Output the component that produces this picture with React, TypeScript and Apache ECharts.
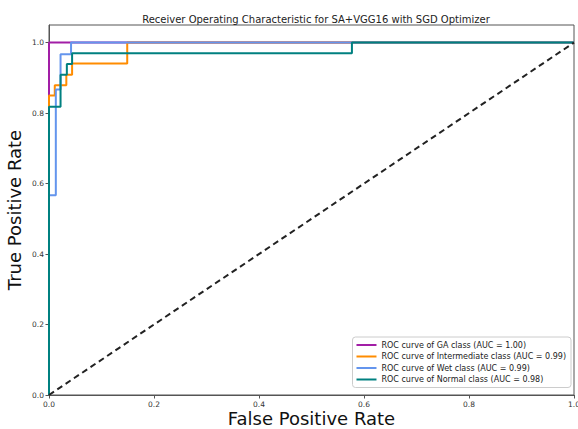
import React, { useEffect, useRef } from "react";
import * as echarts from "echarts";

// ROC curve points (false positive rate / true positive rate) per class
const gaFpr = [0, 0, 1];
const gaTpr = [0, 1, 1];

const intermediateFpr = [0, 0, 0.011, 0.011, 0.033, 0.033, 0.044, 0.044, 0.149, 0.149, 1];
const intermediateTpr = [0, 0.85, 0.85, 0.879, 0.879, 0.909, 0.909, 0.941, 0.941, 1, 1];

const wetFpr = [0, 0, 0.013, 0.013, 0.022, 0.022, 0.042, 0.042, 1];
const wetTpr = [0, 0.567, 0.567, 0.867, 0.867, 0.967, 0.967, 1, 1];

const normalFpr = [0, 0, 0.022, 0.022, 0.034, 0.034, 0.044, 0.044, 0.577, 0.577, 1];
const normalTpr = [0, 0.818, 0.818, 0.909, 0.909, 0.939, 0.939, 0.97, 0.97, 1, 1];

const chanceLine = [0, 1];

const seriesNames = [
  "ROC curve of GA class (AUC = 1.00)",
  "ROC curve of Intermediate class (AUC = 0.99)",
  "ROC curve of Wet class (AUC = 0.99)",
  "ROC curve of Normal class (AUC = 0.98)",
];
const seriesColors = ["#a21ea6", "#ff8c00", "#6495ed", "#008080"];

const tickValues = [0, 0.2, 0.4, 0.6, 0.8, 1.0];

const zip = (xs: number[], ys: number[]) => xs.map((x, i) => [x, ys[i]]);

const FONT = "DejaVu Sans";

export default function App() {
  const ref = useRef<HTMLDivElement>(null);

  useEffect(() => {
    if (!ref.current) return;
    const chart = echarts.init(ref.current, null, { renderer: "svg" });

    const curves = [
      zip(gaFpr, gaTpr),
      zip(intermediateFpr, intermediateTpr),
      zip(wetFpr, wetTpr),
      zip(normalFpr, normalTpr),
    ];

    const axisCommon = {
      axisLine: { show: true, onZero: false, lineStyle: { color: "#555", width: 1 } },
      axisTick: {
        show: true,
        length: 3.5,
        customValues: tickValues,
        lineStyle: { color: "#555" },
      },
      axisLabel: {
        customValues: tickValues,
        formatter: (v: number) => v.toFixed(1),
        fontFamily: FONT,
        fontSize: 7.5,
        lineHeight: 8,
        color: "#333",
        margin: 5,
      },
      splitLine: { show: false },
      nameMoveOverlap: false,
      nameTextStyle: { fontFamily: FONT, fontSize: 18, lineHeight: 18, color: "#111" },
    };

    chart.setOption({
      animation: false,
      backgroundColor: "#ffffff",
      title: {
        text: "Receiver Operating Characteristic for SA+VGG16 with SGD Optimizer",
        left: 311,
        top: 9,
        textAlign: "center",
        textStyle: { fontFamily: FONT, fontSize: 10, fontWeight: "normal", color: "#222" },
      },
      grid: {
        left: 49,
        right: 4,
        top: 25,
        bottom: 34,
        outerBoundsMode: "none",
        containLabel: false,
        show: true,
        borderColor: "#555",
        borderWidth: 1,
        backgroundColor: "transparent",
      },
      xAxis: {
        type: "value",
        min: 0,
        max: 1,
        name: "False Positive Rate",
        nameLocation: "middle",
        nameGap: 14,
        ...axisCommon,
      },
      yAxis: {
        type: "value",
        min: 0,
        max: 1.05,
        name: "True Positive Rate",
        nameLocation: "middle",
        nameGap: 26,
        ...axisCommon,
      },
      legend: {
        orient: "vertical",
        right: 7,
        top: 337,
        padding: [4, 5, 4, 4],
        itemGap: 3.5,
        itemWidth: 20,
        itemHeight: 2,
        icon: "rect",
        backgroundColor: "#fff",
        borderColor: "#ccc",
        borderWidth: 1,
        borderRadius: 3,
        data: seriesNames,
        textStyle: { fontFamily: FONT, fontSize: 8, color: "#222" },
      },
      series: [
        ...curves.map((data, i) => ({
          name: seriesNames[i],
          type: "line",
          data,
          symbol: "none",
          color: seriesColors[i],
          lineStyle: { color: seriesColors[i], width: 2 },
          z: 2 + i,
        })),
        {
          name: "chance",
          type: "line",
          data: zip(chanceLine, chanceLine),
          symbol: "none",
          lineStyle: { color: "#222", width: 2, type: [6, 4] },
          z: 10,
        },
      ],
    });

    return () => chart.dispose();
  }, []);

  return <div ref={ref} style={{ width: 578, height: 429, position: "absolute", left: 0, top: 0 }} />;
}
